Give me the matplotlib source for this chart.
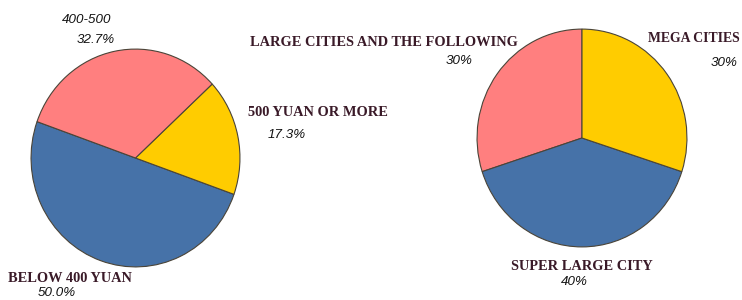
import matplotlib
matplotlib.use("Agg")
import matplotlib.pyplot as plt

W, H = 742, 300

# Left pie: monthly spending
left_labels = ["BELOW 400 YUAN", "500 YUAN OR MORE", "400-500"]
left_values = [50.0, 17.3, 32.7]
left_pct = ["50.0%", "17.3%", "32.7%"]

# Right pie: city size
right_labels = ["LARGE CITIES AND THE FOLLOWING", "SUPER LARGE CITY", "MEGA CITIES"]
right_values = [30, 40, 30]
right_pct = ["30%", "40%", "30%"]

PINK = "#FF7F7F"
YELLOW = "#FFCC00"
BLUE = "#4672A8"
EDGE = "#4a4438"
LABEL_COLOR = "#3a1a28"

fig = plt.figure(figsize=(W / 100, H / 100), dpi=100)


def add_pie(box, values, colors, start):
    x0, y0, x1, y1 = box
    ax = fig.add_axes([x0 / W, 1 - y1 / H, (x1 - x0) / W, (y1 - y0) / H])
    ax.pie(values, colors=colors, startangle=start, counterclock=True,
           wedgeprops=dict(edgecolor=EDGE, linewidth=0.8))
    ax.set_aspect("auto")
    ax.set_xlim(-1.01, 1.01)
    ax.set_ylim(-1.01, 1.01)
    ax.axis("off")
    return ax


add_pie((30, 48, 241, 268), left_values, [BLUE, YELLOW, PINK], 160.5)
add_pie((476, 28, 688, 248), right_values, [PINK, BLUE, YELLOW], 90)


def label(x, y, s, ha="left", size=10.4):
    fig.text(x / W, 1 - y / H, s, ha=ha, va="center", family="Liberation Serif",
             fontweight="bold", fontsize=size, color=LABEL_COLOR)


def pct(x, y, s, ha="left"):
    fig.text(x / W, 1 - y / H, s, ha=ha, va="center", family="Liberation Sans",
             style="italic", fontsize=9.6, color="#111111")


# Left labels
pct(62, 20, left_labels[2])
pct(77, 40, left_pct[2])
label(248, 112, left_labels[1])
pct(268, 135, left_pct[1])
label(8, 279, left_labels[0])
pct(38, 293, left_pct[0])

# Right labels
label(250, 42, right_labels[0])
pct(446, 61, right_pct[0])
label(648, 38, right_labels[2], size=9.9)
pct(711, 63, right_pct[2])
label(511, 266, right_labels[1])
pct(561, 282, right_pct[1])

fig.savefig("out.png", dpi=100, facecolor="white")
